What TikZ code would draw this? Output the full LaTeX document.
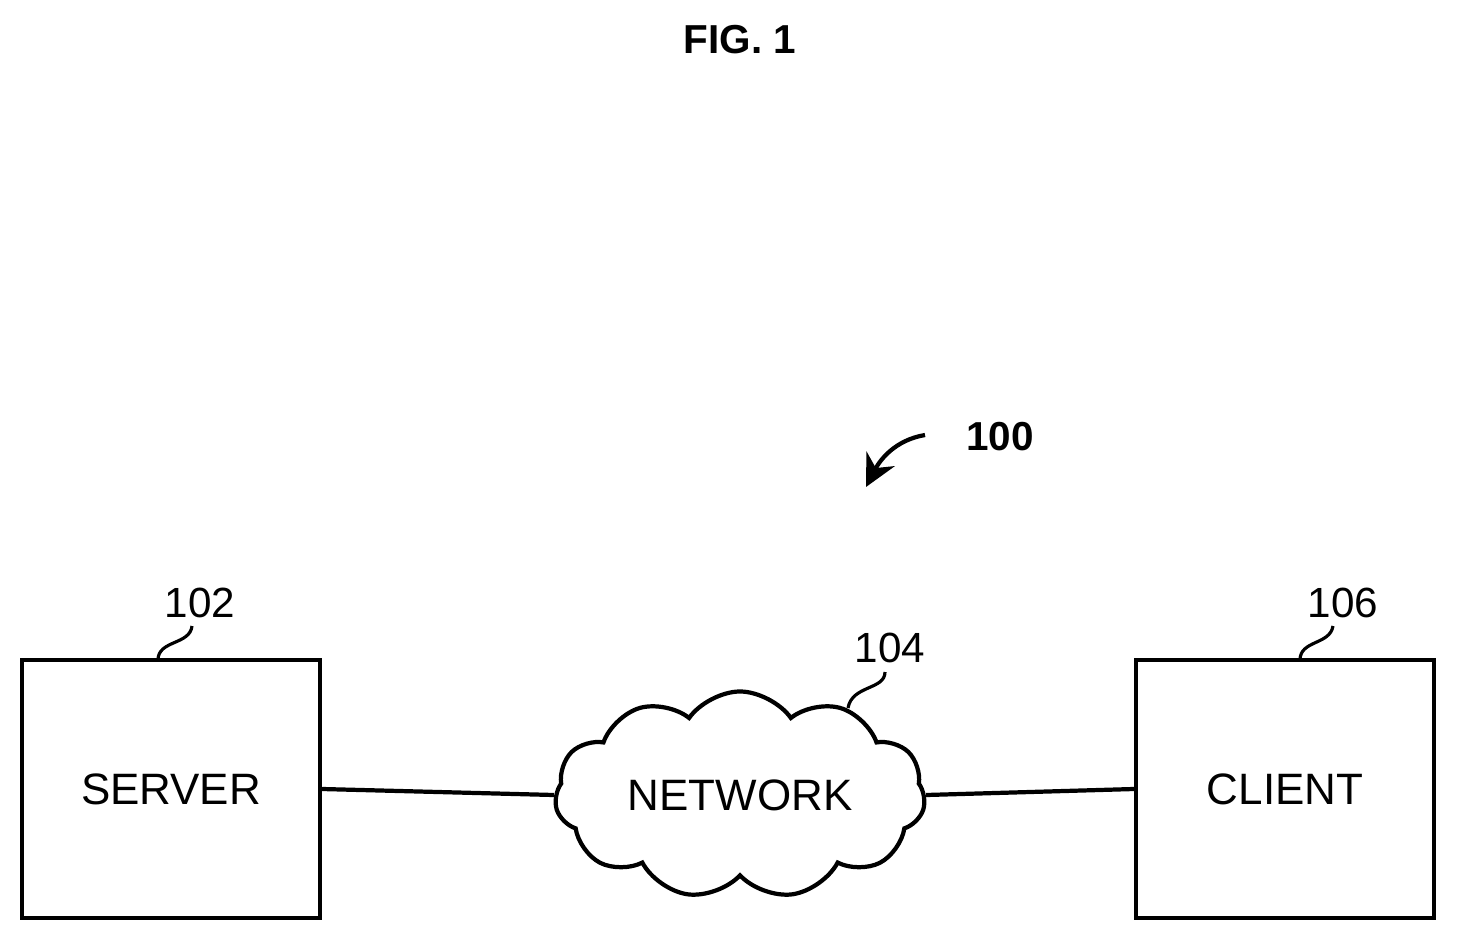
\documentclass[tikz,border=0pt]{standalone}
\usepackage{fontspec}
\setmainfont{Liberation Sans}
\usetikzlibrary{shapes.symbols,arrows.meta}
\begin{document}
\begin{tikzpicture}[x=0.01cm,y=-0.01cm,
  box/.style={draw,line width=1.2pt,minimum width=2.98cm,minimum height=2.58cm,font=\fontsize{12.5}{14}\selectfont},
  lbl/.style={font=\fontsize{12}{14}\selectfont},
  lead/.style={line width=0.9pt}]
\useasboundingbox (0,0) rectangle (1457,942);
\node[font=\bfseries\fontsize{11.5}{13}\selectfont] (fig) at (740,40) {FIG. 1};
\node[font=\bfseries\fontsize{11.5}{13}\selectfont] (sys) at (1000,437) {100};
\coordinate (as) at (925,435);
\coordinate (ae) at (866,487);
\draw[line width=1.2pt,-{Stealth[length=9pt,width=9pt]}] (as) .. controls (895,440) and (880,460) .. (ae);
\node[box] (srv) at (171,789) {SERVER};
\node[box] (cli) at (1285,789) {CLIENT};
\node[draw,cloud,cloud puffs=11,cloud puff arc=110,aspect=1.9,line width=1.2pt,minimum width=3.7cm,minimum height=2.0cm,inner sep=0pt,font=\fontsize{12.5}{14}\selectfont] (net) at (740,795) {NETWORK};
\draw[line width=1.2pt] (srv.east) -- (net.west);
\draw[line width=1.2pt] (net.east) -- (cli.west);
\node[lbl] (l102) at (200,603) {102};
\node[lbl] (l104) at (890,648) {104};
\node[lbl] (l106) at (1343,603) {106};
\coordinate (s1) at (158,660);
\coordinate (n1) at (848,708);
\coordinate (c1) at (1300,660);
\draw[lead] (s1) .. controls (158,640) and (190,645) .. (192,626);
\draw[lead] (n1) .. controls (852,685) and (885,690) .. (885,672);
\draw[lead] (c1) .. controls (1300,640) and (1330,645) .. (1333,626);
\end{tikzpicture}
\end{document}
